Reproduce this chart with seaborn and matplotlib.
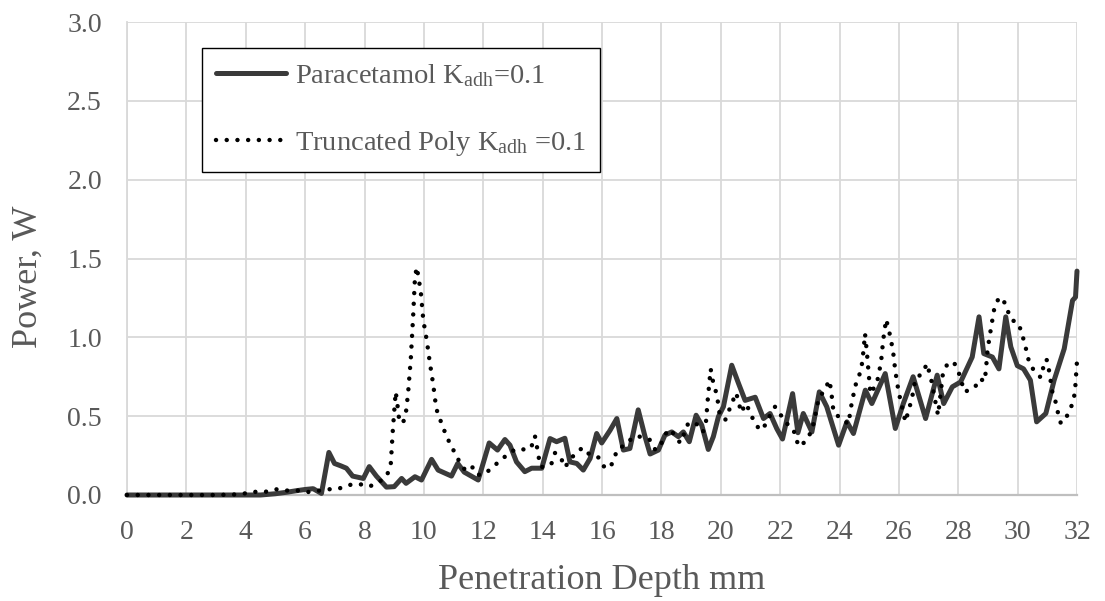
import matplotlib
matplotlib.use("Agg")
import matplotlib.pyplot as plt
import seaborn as sns

# ---------------- data ----------------
par_x = [0.0, 1.0, 2.0, 3.0, 4.0, 4.5, 5.0, 5.4, 5.7, 6.0, 6.27, 6.55, 6.8, 6.99, 7.2, 7.39,
         7.6, 7.96, 8.16, 8.4, 8.74, 9.0, 9.25, 9.4, 9.7, 9.92, 10.26, 10.48, 10.93, 11.14,
         11.36, 11.83, 12.2, 12.48, 12.73, 12.9, 13.12, 13.4, 13.63, 13.97, 14.25, 14.47,
         14.75, 14.92, 15.15, 15.37, 15.6, 15.82, 15.99, 16.27, 16.5, 16.72, 16.94, 17.22,
         17.45, 17.62, 17.9, 18.12, 18.35, 18.57, 18.74, 18.94, 19.17, 19.36, 19.58, 19.75,
         19.92, 20.09, 20.37, 20.6, 20.82, 21.16, 21.44, 21.66, 21.89, 22.08, 22.42, 22.6,
         22.78, 23.07, 23.32, 23.57, 23.97, 24.25, 24.47, 24.87, 25.09, 25.54, 25.88, 26.15,
         26.48, 26.9, 27.29, 27.51, 27.8, 28.08, 28.47, 28.7, 28.86, 29.15, 29.37, 29.6,
         29.77, 29.99, 30.2, 30.43, 30.64, 30.95, 31.23, 31.57, 31.85, 31.95, 32.0]
par_y = [0.0, 0.0, 0.0, 0.0, 0.0, 0.0, 0.008, 0.018, 0.027, 0.035, 0.04, 0.01, 0.27, 0.2,
         0.185, 0.17, 0.12, 0.105, 0.18, 0.12, 0.05, 0.053, 0.105, 0.074, 0.116, 0.095, 0.226,
         0.158, 0.12, 0.2, 0.145, 0.095, 0.33, 0.285, 0.352, 0.316, 0.21, 0.148, 0.17, 0.17,
         0.358, 0.338, 0.36, 0.21, 0.2, 0.158, 0.232, 0.39, 0.33, 0.41, 0.485, 0.285, 0.295,
         0.54, 0.37, 0.26, 0.285, 0.38, 0.40, 0.37, 0.40, 0.338, 0.506, 0.443, 0.289, 0.37,
         0.496, 0.56, 0.823, 0.707, 0.60, 0.62, 0.485, 0.517, 0.42, 0.355, 0.643, 0.395,
         0.517, 0.40, 0.654, 0.56, 0.316, 0.464, 0.39, 0.665, 0.58, 0.77, 0.422, 0.58, 0.75,
         0.485, 0.76, 0.58, 0.686, 0.717, 0.875, 1.13, 0.897, 0.875, 0.80, 1.13, 0.94, 0.82,
         0.80, 0.728, 0.464, 0.517, 0.728, 0.928, 1.234, 1.255, 1.42]

tp_x = [0.0, 1.0, 2.0, 3.0, 3.6, 3.97, 4.3, 4.65, 5.03, 5.35, 5.7, 6.05, 6.44, 6.78, 7.13,
        7.45, 7.82, 8.16, 8.5, 8.74, 8.88, 8.95, 9.02, 9.05, 9.1, 9.15, 9.22, 9.32, 9.4, 9.47,
        9.56, 9.64, 9.7, 9.76, 9.82, 9.9, 9.98, 10.1, 10.2, 10.31, 10.4, 10.48, 10.62, 10.73,
        10.88, 11.04, 11.21, 11.4, 11.62, 11.8, 12.06, 12.32, 12.6, 12.88, 13.18, 13.48,
        13.63, 13.74, 13.8, 13.86, 13.93, 14.08, 14.3, 14.42, 14.61, 14.75, 14.9, 15.12,
        15.35, 15.6, 15.88, 16.04, 16.27, 16.4, 16.52, 16.8, 17.06, 17.34, 17.6, 17.79,
        17.96, 18.07, 18.27, 18.5, 18.63, 18.78, 18.91, 19.17, 19.4, 19.5, 19.56, 19.61,
        19.66, 19.73, 19.83, 19.9, 19.96, 20.15, 20.26, 20.39, 20.52, 20.6, 20.69, 20.84,
        20.99, 21.12, 21.33, 21.53, 21.66, 21.83, 22.0, 22.2, 22.45, 22.54, 22.67, 22.9,
        23.07, 23.16, 23.29, 23.52, 23.66, 23.72, 23.8, 24.02, 24.3, 24.39, 24.53, 24.66,
        24.75, 24.81, 24.86, 24.92, 24.98, 25.04, 25.26, 25.4, 25.47, 25.57, 25.66, 25.73,
        25.8, 25.88, 25.99, 26.07, 26.22, 26.33, 26.44, 26.56, 26.78, 26.95, 27.12, 27.2,
        27.32, 27.4, 27.48, 27.63, 27.85, 28.02, 28.21, 28.55, 28.73, 28.89, 28.93, 28.99,
        29.1, 29.22, 29.38, 29.6, 29.7, 29.82, 29.99, 30.13, 30.22, 30.31, 30.39, 30.55,
        30.78, 30.93, 31.0, 31.06, 31.17, 31.29, 31.36, 31.45, 31.57, 31.7, 31.85, 31.93,
        32.0]
tp_y = [0.0, 0.0, 0.0, 0.0, 0.003, 0.01, 0.02, 0.02, 0.036, 0.028, 0.03, 0.018, 0.027,
        0.036, 0.04, 0.063, 0.07, 0.053, 0.084, 0.12, 0.18, 0.40, 0.584, 0.654, 0.59, 0.50,
        0.454, 0.47, 0.53, 0.65, 0.865, 1.14, 1.38, 1.445, 1.38, 1.28, 1.11, 0.977, 0.84,
        0.707, 0.574, 0.5, 0.45, 0.384, 0.327, 0.268, 0.207, 0.155, 0.18, 0.127, 0.133,
        0.18, 0.22, 0.27, 0.295, 0.285, 0.31, 0.375, 0.316, 0.247, 0.18, 0.175, 0.2, 0.268,
        0.238, 0.175, 0.217, 0.268, 0.30, 0.253, 0.238, 0.183, 0.17, 0.228, 0.29, 0.32,
        0.37, 0.37, 0.352, 0.289, 0.30, 0.37, 0.418, 0.37, 0.33, 0.395, 0.458, 0.454, 0.40,
        0.458, 0.60, 0.70, 0.80, 0.728, 0.66, 0.595, 0.517, 0.475, 0.527, 0.59, 0.648, 0.59,
        0.523, 0.58, 0.527, 0.464, 0.41, 0.45, 0.506, 0.56, 0.513, 0.458, 0.416, 0.348,
        0.306, 0.352, 0.41, 0.48, 0.607, 0.675, 0.728, 0.66, 0.523, 0.49, 0.45, 0.56, 0.692,
        0.755, 0.823, 0.918, 1.023, 0.91, 0.776, 0.643, 0.71, 0.843, 0.98, 1.114, 1.05,
        0.985, 0.918, 0.787, 0.654, 0.59, 0.464, 0.538, 0.612, 0.738, 0.77, 0.833, 0.707,
        0.62, 0.506, 0.633, 0.766, 0.83, 0.844, 0.774, 0.654, 0.68, 0.738, 0.72, 0.79,
        0.924, 1.055, 1.19, 1.255, 1.213, 1.15, 1.107, 1.097, 1.038, 0.97, 0.907, 0.838,
        0.79, 0.745, 0.86, 0.854, 0.787, 0.654, 0.584, 0.52, 0.458, 0.464, 0.517, 0.58,
        0.65, 0.85]

x_ticks = list(range(0, 33, 2))
y_ticks = [0.0, 0.5, 1.0, 1.5, 2.0, 2.5, 3.0]
y_tick_labels = ["0.0", "0.5", "1.0", "1.5", "2.0", "2.5", "3.0"]
series_labels = [r"Paracetamol K$_{\rm adh}$=0.1", r"Truncated Poly K$_{\rm adh}$ =0.1"]
x_title = "Penetration Depth mm"
y_title = "Power, W"

# ---------------- style ----------------
sns.set_theme(style="white")
plt.rcParams["font.family"] = ["Liberation Serif", "DejaVu Serif"]
plt.rcParams["mathtext.fontset"] = "custom"
plt.rcParams["mathtext.rm"] = "Liberation Serif"
plt.rcParams["mathtext.it"] = "Liberation Serif:italic"
plt.rcParams["mathtext.bf"] = "Liberation Serif:bold"

TXT = "#595959"
GRID = "#d9d9d9"

W, H = 1105, 601
fig = plt.figure(figsize=(W / 100, H / 100), dpi=100)
fig.patch.set_facecolor("white")
ax = fig.add_axes([127 / W, 1 - 495 / H, 950 / W, 473 / H])

sns.lineplot(x=par_x, y=par_y, ax=ax, color="#3a3a3a", linewidth=3.6,
             label=series_labels[0], estimator=None, sort=False,
             solid_capstyle="round", solid_joinstyle="round", clip_on=False, zorder=3)
sns.lineplot(x=tp_x, y=tp_y, ax=ax, color="black", linewidth=3.2,
             linestyle=(0, (0.01, 2.4)), dash_capstyle="round", dash_joinstyle="round",
             label=series_labels[1], estimator=None, sort=False, clip_on=False, zorder=4)

ax.set_xlim(0, 32)
ax.set_ylim(0, 3)
ax.set_xticks(x_ticks)
ax.set_xticklabels([str(t) for t in x_ticks])
ax.set_yticks(y_ticks)
ax.set_yticklabels(y_tick_labels)
ax.grid(True, color=GRID, linewidth=1.3)
ax.set_axisbelow(True)
ax.tick_params(axis="both", length=0, labelsize=20, labelcolor=TXT)
ax.tick_params(axis="x", pad=18)
ax.tick_params(axis="y", pad=18)

for s in ("top", "right"):
    ax.spines[s].set_visible(False)
ax.spines["left"].set_color(GRID)
ax.spines["left"].set_linewidth(1.3)
ax.spines["bottom"].set_color("#bfbfbf")
ax.spines["bottom"].set_linewidth(1.6)

ax.set_xlabel(x_title, fontsize=26, color=TXT)
ax.set_ylabel(y_title, fontsize=26, color=TXT)
ax.xaxis.set_label_coords(0.5, -0.146)
ax.yaxis.set_label_coords(-0.087, 0.462)

leg = ax.legend(loc="upper left", bbox_to_anchor=(202 / W, 1 - 48 / H),
                bbox_transform=fig.transFigure, frameon=True, fancybox=False,
                edgecolor="black", facecolor="white", framealpha=1, fontsize=20.5,
                borderaxespad=0, borderpad=0.5, handlelength=2.45, handletextpad=0.3,
                labelspacing=1.4)
leg.get_frame().set_linewidth(1.0)
for t in leg.get_texts():
    t.set_color(TXT)

fig.savefig("out.png", dpi=100, facecolor="white")
